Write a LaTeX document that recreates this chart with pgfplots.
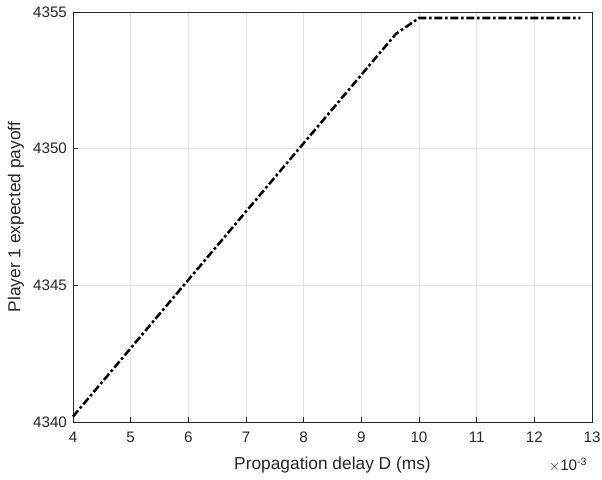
\documentclass[border=0pt]{standalone}
\usepackage{pgfplots}
\pgfplotsset{compat=1.18}
\usepackage{fontspec}
\setmainfont{Liberation Sans}
\definecolor{axgray}{rgb}{0.15,0.15,0.15}
\begin{document}
\begin{tikzpicture}
\path[use as bounding box] (-54.75pt,-42.75pt) rectangle (396.75pt,316.5pt);
\begin{axis}[
  scale only axis, width=389.25pt, height=307.5pt,
  xmin=4, xmax=13, ymin=4340, ymax=4355,
  xtick={4,5,...,13}, ytick={4340,4345,4350,4355},
  /pgf/number format/1000 sep={},
  /pgf/number format/assume math mode=true,
  xtick pos=bottom, ytick pos=left, tick align=inside,
  major tick length=3.5pt,
  axis line style={axgray, line width=0.5pt},
  tick style={axgray, line width=0.5pt},
  grid=major, grid style={gray!22, line width=0.5pt},
  tick label style={font=\fontsize{11.4}{13}\selectfont, text=axgray},
  xticklabel style={yshift=-4pt},
  yticklabel style={xshift=-1pt},
  xlabel={Propagation delay D (ms)},
  ylabel={Player 1 expected payoff},
  label style={font=\fontsize{13}{15}\selectfont, text=axgray},
  xlabel style={yshift=-4pt},
  ylabel style={yshift=0pt},
  clip=false,
]
\addplot[black, line width=1.9pt,
  dash pattern=on 6pt off 2pt on 2pt off 2pt]
  coordinates {
    (4,4340.2)(9.6,4354.2)(10,4354.78)(12.8,4354.78)
  };
\node[font=\fontsize{11.4}{13}\selectfont, text=axgray, anchor=north east]
  at (rel axis cs:1.0,-0.076) {$\times$10\textsuperscript{-3}};
\end{axis}
\end{tikzpicture}
\end{document}
